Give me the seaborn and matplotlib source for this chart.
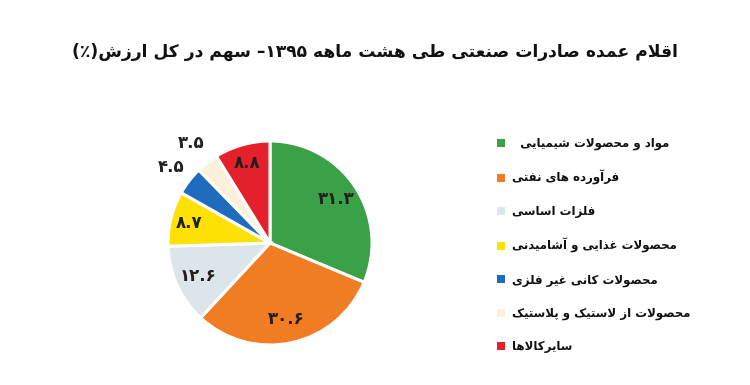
import re
import matplotlib
matplotlib.use("Agg")
import matplotlib.pyplot as plt
import seaborn as sns
import numpy as np

# ---------------- data ----------------
title_text = "اقلام عمده صادرات صنعتی طی هشت ماهه ۱۳۹۵– سهم در کل ارزش(٪)"
categories = [
    "مواد و محصولات شیمیایی",
    "فرآورده های نفتی",
    "فلزات اساسی",
    "محصولات غذایی و آشامیدنی",
    "محصولات کانی غیر فلزی",
    "محصولات از لاستیک و پلاستیک",
    "سایرکالاها",
]
shares = [31.3, 30.6, 12.6, 8.7, 4.5, 3.5, 8.8]
colors = ["#3aa148", "#f07d23", "#dce5ea", "#fde102", "#1f6cbf", "#fcf0dc", "#e4202a"]
label_dist = [0.78, 0.76, 0.77, 0.82, 1.22, 1.25, 0.82]

# ---------------- Arabic-script shaping + right-to-left visual ordering ----------------
FORMS = {
    '\u0627': ('\uFE8D', '\uFE8E', None, None),
    '\u0622': ('\uFE81', '\uFE82', None, None),
    '\u062F': ('\uFEA9', '\uFEAA', None, None),
    '\u0630': ('\uFEAB', '\uFEAC', None, None),
    '\u0631': ('\uFEAD', '\uFEAE', None, None),
    '\u0632': ('\uFEAF', '\uFEB0', None, None),
    '\u0698': ('\uFB8A', '\uFB8B', None, None),
    '\u0648': ('\uFEED', '\uFEEE', None, None),
    '\u0628': ('\uFE8F', '\uFE90', '\uFE91', '\uFE92'),
    '\u062A': ('\uFE95', '\uFE96', '\uFE97', '\uFE98'),
    '\u062B': ('\uFE99', '\uFE9A', '\uFE9B', '\uFE9C'),
    '\u062C': ('\uFE9D', '\uFE9E', '\uFE9F', '\uFEA0'),
    '\u062D': ('\uFEA1', '\uFEA2', '\uFEA3', '\uFEA4'),
    '\u062E': ('\uFEA5', '\uFEA6', '\uFEA7', '\uFEA8'),
    '\u0633': ('\uFEB1', '\uFEB2', '\uFEB3', '\uFEB4'),
    '\u0634': ('\uFEB5', '\uFEB6', '\uFEB7', '\uFEB8'),
    '\u0635': ('\uFEB9', '\uFEBA', '\uFEBB', '\uFEBC'),
    '\u0636': ('\uFEBD', '\uFEBE', '\uFEBF', '\uFEC0'),
    '\u0637': ('\uFEC1', '\uFEC2', '\uFEC3', '\uFEC4'),
    '\u0638': ('\uFEC5', '\uFEC6', '\uFEC7', '\uFEC8'),
    '\u0639': ('\uFEC9', '\uFECA', '\uFECB', '\uFECC'),
    '\u063A': ('\uFECD', '\uFECE', '\uFECF', '\uFED0'),
    '\u0641': ('\uFED1', '\uFED2', '\uFED3', '\uFED4'),
    '\u0642': ('\uFED5', '\uFED6', '\uFED7', '\uFED8'),
    '\u0644': ('\uFEDD', '\uFEDE', '\uFEDF', '\uFEE0'),
    '\u0645': ('\uFEE1', '\uFEE2', '\uFEE3', '\uFEE4'),
    '\u0646': ('\uFEE5', '\uFEE6', '\uFEE7', '\uFEE8'),
    '\u0647': ('\uFEE9', '\uFEEA', '\uFEEB', '\uFEEC'),
    '\u06CC': ('\uFBFC', '\uFBFD', '\uFBFE', '\uFBFF'),
    '\u06A9': ('\uFB8E', '\uFB8F', '\uFB90', '\uFB91'),
    '\u067E': ('\uFB56', '\uFB57', '\uFB58', '\uFB59'),
    '\u06AF': ('\uFB92', '\uFB93', '\uFB94', '\uFB95'),
    '\u0686': ('\uFB7A', '\uFB7B', '\uFB7C', '\uFB7D'),
}
LAM_ALEF = {'\u0627': ('\uFEFB', '\uFEFC'), '\u0622': ('\uFEF5', '\uFEF6')}


def shape_run(run):
    toks = []
    i = 0
    while i < len(run):
        c = run[i]
        if c == '\u0644' and i + 1 < len(run) and run[i + 1] in LAM_ALEF:
            toks.append(('LA', run[i + 1]))
            i += 2
        else:
            toks.append(('C', c))
            i += 1

    def dual(t):
        return t[0] == 'C' and FORMS[t[1]][2] is not None

    out = []
    for k, t in enumerate(toks):
        jp = k > 0 and dual(toks[k - 1])
        jn = dual(t) and k + 1 < len(toks)
        if t[0] == 'LA':
            out.append(LAM_ALEF[t[1]][1 if jp else 0])
        else:
            f = FORMS[t[1]]
            if jp and jn:
                out.append(f[3])
            elif jp:
                out.append(f[1])
            elif jn:
                out.append(f[2])
            else:
                out.append(f[0])
    return ''.join(out)


def rtl(text):
    """Shape Arabic-script letters and return the string in visual (left-to-right) order."""
    res, run = [], []
    for ch in text:
        if ch in FORMS:
            run.append(ch)
        else:
            if run:
                res.append(shape_run(run))
                run = []
            res.append(ch)
    if run:
        res.append(shape_run(run))
    s = ''.join(res)[::-1]
    s = s.translate(str.maketrans("()", ")("))
    s = re.sub(r'[0-9\u06F0-\u06F9][0-9\u06F0-\u06F9.\u066B]*', lambda m: m.group(0)[::-1], s)
    return s


FA_DIGITS = str.maketrans("0123456789", "۰۱۲۳۴۵۶۷۸۹")


def fa_num(v):
    return f"{v:.1f}".translate(FA_DIGITS)


# ---------------- plot ----------------
sns.set_theme(style="white")
plt.rcParams['font.family'] = ['DejaVu Sans']
palette = sns.color_palette(colors)

fig = plt.figure(figsize=(7.5, 3.85), dpi=100)
fig.patch.set_facecolor("white")
ax = fig.add_axes([(270 - 102) / 750, (142 - 102) / 385, 204 / 750, 204 / 385])

wedges, _ = ax.pie(shares, colors=palette, startangle=90, counterclock=False,
                   wedgeprops=dict(edgecolor="white", linewidth=2.2))
ax.set_xlim(-1.0, 1.0)
ax.set_ylim(-1.0, 1.0)
ax.set_aspect("equal")
ax.axis("off")

for w, v, d in zip(wedges, shares, label_dist):
    ang = np.deg2rad((w.theta1 + w.theta2) / 2)
    ax.text(d * np.cos(ang), d * np.sin(ang), fa_num(v), ha="center", va="center",
            fontsize=12, fontweight="bold", color="#231f20", clip_on=False)

fig.text(0.5, 0.865, rtl(title_text), ha="center", va="center",
         fontsize=12.3, fontweight="bold", color="#111111")

leg_labels = [rtl(c) for c in categories]
leg_labels[0] = "  " + leg_labels[0]
leg = fig.legend(wedges, leg_labels, loc="upper left", bbox_to_anchor=(0.657, 0.657),
                 frameon=False, fontsize=8.5, handlelength=0.65, handleheight=0.65,
                 handletextpad=0.6, labelspacing=1.7, borderaxespad=0)
for t in leg.get_texts():
    t.set_fontweight("bold")
    t.set_color("#111111")
for h in leg.legend_handles:
    h.set_edgecolor("none")

fig.savefig("out.png", dpi=100, facecolor="white")
